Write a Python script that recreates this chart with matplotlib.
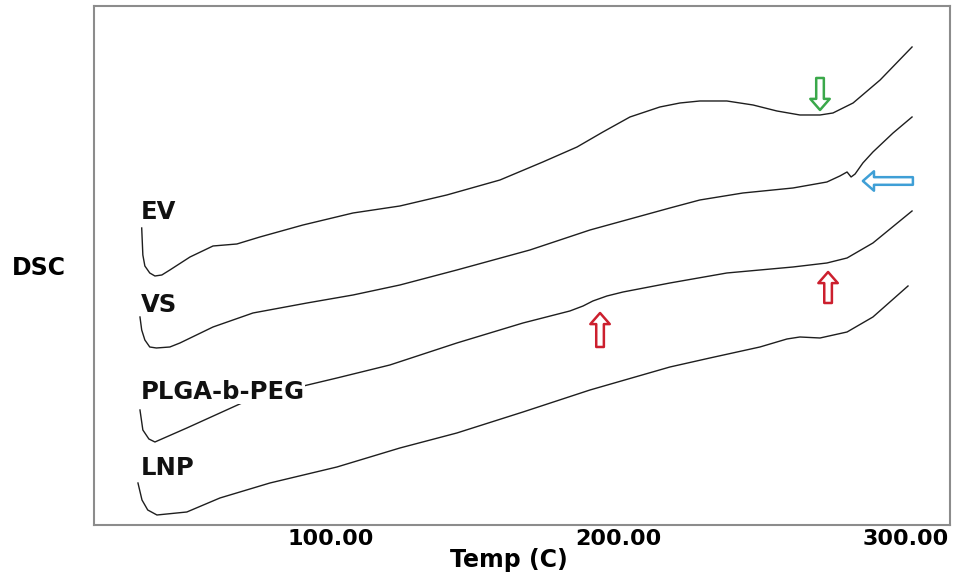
import matplotlib
matplotlib.use("Agg")
import matplotlib.pyplot as plt
from matplotlib.ticker import FormatStrFormatter

# ---------------------------------------------------------------------------
# Data (temperature in C, heat flow in arbitrary units, curves offset)
# ---------------------------------------------------------------------------

ev_temp = [34.2, 34.6, 35.3, 37.0, 38.8, 41.2, 44.0, 51.0, 59.0, 67.3, 75.3, 90.3,
           107.7, 124.0, 140.3, 158.8, 173.7, 185.6, 194.6, 204.0, 214.4, 221.4,
           228.3, 237.7, 246.8, 255.1, 263.1, 270.1, 274.6, 281.6, 291.0, 302.1]
ev_dsc = [29.7, 27.0, 25.9, 25.2, 24.9, 25.0, 25.5, 26.8, 27.9, 28.1, 28.8, 30.0,
          31.2, 31.9, 33.0, 34.5, 36.3, 37.8, 39.3, 40.8, 41.8, 42.2,
          42.4, 42.4, 42.0, 41.4, 41.0, 41.0, 41.2, 42.2, 44.5, 47.8]

vs_temp = [33.6, 34.2, 35.3, 37.0, 39.3, 44.0, 47.5, 59.0, 72.9, 91.7, 107.7, 124.0,
           143.8, 169.2, 190.1, 217.9, 228.3, 243.3, 260.7, 272.5, 277.0, 279.5,
           280.9, 282.3, 285.0, 288.5, 295.5, 302.1]
vs_dsc = [20.8, 19.5, 18.5, 17.8, 17.7, 17.8, 18.2, 19.8, 21.2, 22.2, 23.0, 24.0,
          25.5, 27.5, 29.5, 31.7, 32.5, 33.2, 33.7, 34.3, 34.9, 35.3,
          34.8, 35.1, 36.2, 37.3, 39.2, 40.8]

plga_temp = [33.6, 34.6, 36.7, 38.8, 49.9, 61.4, 72.9, 102.1, 120.5, 143.8, 166.8,
             183.1, 187.7, 191.1, 196.0, 201.6, 217.9, 237.7, 260.7, 272.5, 279.5,
             288.5, 302.1]
plga_dsc = [11.5, 9.5, 8.6, 8.3, 9.7, 11.2, 12.7, 14.7, 16.0, 18.2, 20.2,
            21.4, 21.9, 22.4, 22.9, 23.3, 24.2, 25.2, 25.8, 26.2, 26.7,
            28.2, 31.4]

lnp_temp = [32.9, 34.3, 36.3, 39.5, 49.9, 61.4, 78.8, 102.1, 124.0, 143.8, 166.8,
            190.1, 217.9, 231.8, 249.2, 258.6, 263.1, 270.1, 279.5, 288.5, 300.7]
lnp_dsc = [4.2, 2.5, 1.5, 1.0, 1.3, 2.7, 4.2, 5.8, 7.7, 9.2, 11.3,
           13.5, 15.8, 16.7, 17.8, 18.6, 18.8, 18.7, 19.3, 20.8, 23.9]

curves = [(ev_temp, ev_dsc), (vs_temp, vs_dsc), (plga_temp, plga_dsc), (lnp_temp, lnp_dsc)]
names = ["EV", "VS", "PLGA-b-PEG", "LNP"]
name_y = [31.3, 22.0, 13.3, 5.7]

# arrows: (tail, tip) in (temp, dsc)
arrows = [
    ((270.1, 44.7), (270.1, 41.5), "#3aa84a"),
    ((302.4, 34.4), (285.0, 34.4), "#3f9fd6"),
    ((193.6, 17.8), (193.6, 21.2), "#cc1f2e"),
    ((272.9, 22.2), (272.9, 25.3), "#cc1f2e"),
]

xticks = [100, 200, 300]

# ---------------------------------------------------------------------------
# Figure
# ---------------------------------------------------------------------------

fig = plt.figure(figsize=(9.54, 5.81), dpi=100)
ax = fig.add_axes([0.0985, 0.0964, 0.8973, 0.8933])

for t, d in curves:
    ax.plot(t, d, color="#1e1e1e", lw=1.0, zorder=2, solid_joinstyle="round")

for name, y in zip(names, name_y):
    ax.text(33.8, y, name, fontsize=17.5, fontweight="bold", ha="left", va="center",
            color="#111111", zorder=3,
            bbox=dict(fc="white", ec="none", pad=0.0))

for tail, tip, col in arrows:
    ax.annotate("", xy=tip, xytext=tail, zorder=4,
                arrowprops=dict(arrowstyle="simple,head_length=8,head_width=14,tail_width=5.5",
                                mutation_scale=1, fc="white", ec=col, lw=1.8,
                                shrinkA=0, shrinkB=0))

ax.set_xlim(17.6, 315.3)
ax.set_ylim(0, 51.9)
ax.set_xticks(xticks)
ax.xaxis.set_major_formatter(FormatStrFormatter("%.2f"))
ax.set_yticks([])
ax.tick_params(axis="x", length=0, pad=3, labelsize=16)
for lab in ax.get_xticklabels():
    lab.set_fontweight("bold")

for s in ax.spines.values():
    s.set_color("#8c8c8c")
    s.set_linewidth(1.5)

ax.set_xlabel("Temp (C)", fontsize=17, fontweight="bold")
ax.xaxis.set_label_coords(0.485, -0.067)
ax.xaxis.label.set_va("center")
ax.set_ylabel("DSC", fontsize=17, fontweight="bold", rotation=0, ha="left", va="center")
ax.yaxis.set_label_coords(-0.0958, 0.495)

fig.savefig("out.png", dpi=100)
plt.close()
